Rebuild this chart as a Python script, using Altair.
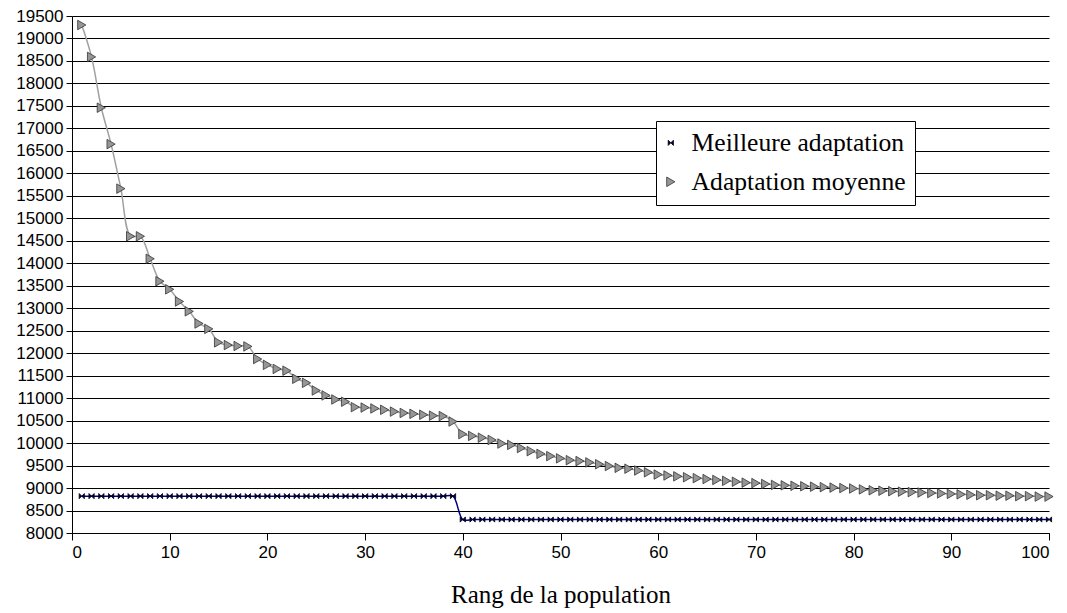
import altair as alt
import pandas as pd

rang = list(range(1, 101))

meilleure = [8820] * 39 + [8300] * 61

moyenne = [
    19300, 18590, 17460, 16650, 15660, 14600, 14600, 14100, 13600, 13420,
    13150, 12930, 12660, 12540, 12240, 12180, 12160, 12150, 11870, 11740,
    11650, 11610, 11430, 11340, 11170, 11060, 10970, 10920, 10800, 10790,
    10770, 10740, 10700, 10670, 10650, 10630, 10610, 10600, 10480, 10200,
    10160, 10120, 10070, 9990, 9960, 9890, 9820, 9760, 9710, 9660,
    9620, 9600, 9570, 9530, 9490, 9450, 9430, 9390, 9350, 9300,
    9280, 9260, 9240, 9220, 9200, 9180, 9160, 9140, 9120, 9110,
    9090, 9070, 9060, 9050, 9040, 9030, 9020, 9010, 9000, 8990,
    8970, 8950, 8940, 8930, 8920, 8910, 8900, 8890, 8880, 8870,
    8860, 8850, 8840, 8840, 8830, 8830, 8820, 8820, 8810, 8810,
]

series_names = ["Meilleure adaptation", "Adaptation moyenne"]

df = pd.concat([
    pd.DataFrame({"rang": rang, "val": meilleure, "serie": series_names[0]}),
    pd.DataFrame({"rang": rang, "val": moyenne, "serie": series_names[1]}),
])

x_enc = alt.X("rang:Q", scale=alt.Scale(domain=[0, 100], nice=False),
              axis=alt.Axis(values=list(range(0, 101, 10)), title="Rang de la population",
                            grid=False, tickSize=7, labelPadding=4, format="d",
                            titleFont="Liberation Serif", titleFontSize=25,
                            titleFontWeight="normal", titlePadding=22))
y_enc = alt.Y("val:Q", scale=alt.Scale(domain=[8000, 19500], nice=False, zero=False),
              axis=alt.Axis(values=list(range(8000, 19501, 500)), title=None, format="d",
                            grid=True, gridColor="black", gridOpacity=1, gridWidth=1.2,
                            tickSize=6, labelPadding=3))

bowtie = "M-0.55,-0.55L0.55,0.55L0.55,-0.55L-0.55,0.55Z"

leg = alt.Legend(title=None, orient="none", legendX=584, legendY=105,
                 fillColor="white", strokeColor="black", padding=9,
                 labelFont="Liberation Serif", labelFontSize=25.6, labelColor="black",
                 labelLimit=0, labelOffset=8, rowPadding=12, symbolSize=90,
                 symbolOffset=-7, symbolStrokeWidth=0.8)

lines = alt.Chart(df).mark_line(interpolate="catmull-rom", strokeWidth=1.5).encode(
    x=x_enc, y=y_enc,
    color=alt.Color("serie:N", scale=alt.Scale(domain=series_names, range=["#000080", "#A0A0A0"]),
                    legend=None),
    detail="serie:N",
)

points = alt.Chart(df).mark_point(filled=True, size=90, opacity=1, strokeWidth=0.8).encode(
    x=x_enc, y=y_enc,
    shape=alt.Shape("serie:N", scale=alt.Scale(domain=series_names, range=[bowtie, "triangle-right"]),
                    legend=leg),
    fill=alt.Fill("serie:N", scale=alt.Scale(domain=series_names, range=["#000060", "#969696"]),
                  legend=leg),
    stroke=alt.Stroke("serie:N", scale=alt.Scale(domain=series_names, range=["#000000", "#333333"]),
                      legend=leg),
)

chart = alt.layer(lines, points).resolve_scale(color="independent").properties(
    width=977, height=517,
    autosize=alt.AutoSizeParams(type="none"),
    padding={"left": 64, "top": 8, "right": 10, "bottom": 76},
).configure_view(stroke=None).configure_axis(
    domainColor="black", tickColor="black", labelColor="black", titleColor="black",
    labelFont="Liberation Sans", labelFontSize=17, domainWidth=1, tickWidth=1,
).configure_legend(
    labelFont="Liberation Serif", labelFontSize=25.6, labelLimit=0, labelColor="black",
)

chart.save("out.html", embed_options={"renderer": "svg", "actions": False})
